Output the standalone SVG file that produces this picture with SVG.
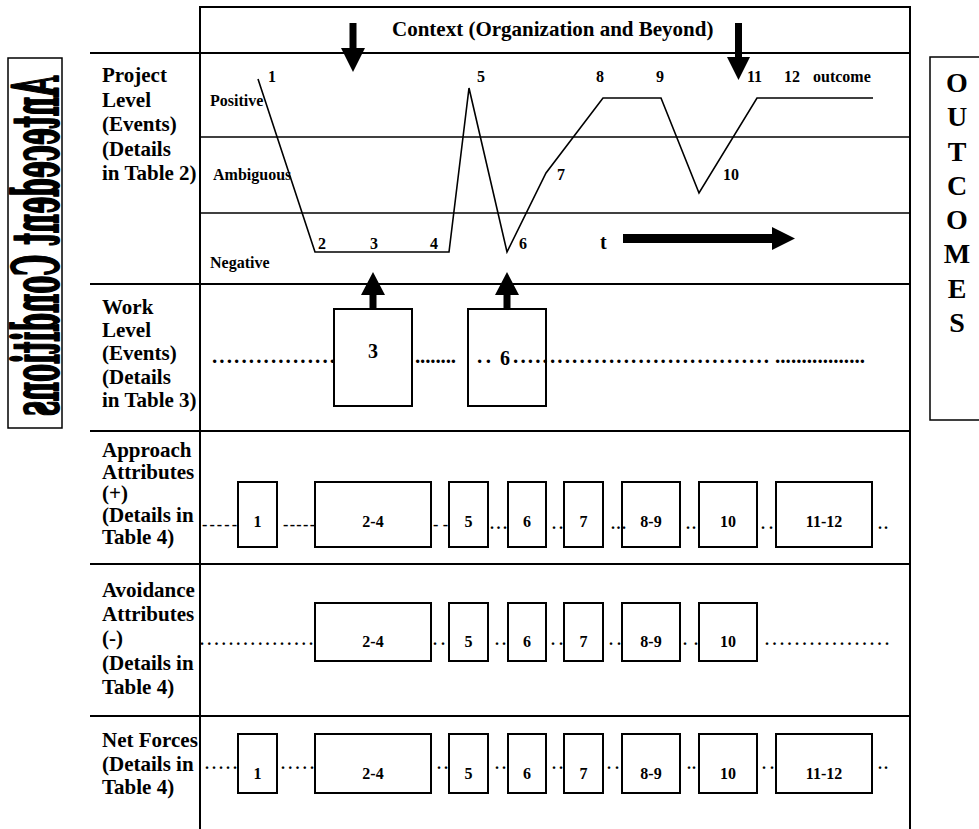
<svg xmlns="http://www.w3.org/2000/svg" width="979" height="829" viewBox="0 0 979 829">
  <style>
    text { font-family: "Liberation Serif", "Times New Roman", serif; font-weight: bold; fill: #000; }
    .lbl { font-size: 21px; }
    .sm { font-size: 16px; }
    .num { font-size: 16px; }
    .big { font-size: 20px; }
    .dots { font-size: 16px; }
    .wdots { font-size: 21px; }
    .out { font-size: 28px; text-anchor: middle; }
    .vert { font-family: "DejaVu Serif", serif; font-size: 63px; stroke: #000; stroke-width: 2.2; stroke-linejoin: round; }
    .frame line { stroke: #000; stroke-width: 2; }
    .frame line.thin { stroke-width: 1.5; }
    .node rect { fill: #fff; stroke: #000; stroke-width: 2; }
    .node text { text-anchor: middle; }
    .trace { fill: none; stroke: #000; stroke-width: 1.6; stroke-linejoin: miter; }
    .arrow { fill: #000; stroke: none; }
  </style>

  <!-- table grid -->
  <g class="frame">
    <line x1="199" y1="7" x2="911" y2="7"/>
    <line x1="200" y1="7" x2="200" y2="829"/>
    <line x1="910" y1="7" x2="910" y2="829"/>
    <line x1="90" y1="53" x2="911" y2="53"/>
    <line class="thin" x1="200" y1="137" x2="910" y2="137"/>
    <line class="thin" x1="200" y1="213" x2="910" y2="213"/>
    <line x1="90" y1="284" x2="911" y2="284"/>
    <line x1="90" y1="431" x2="911" y2="431"/>
    <line x1="90" y1="564" x2="911" y2="564"/>
    <line x1="90" y1="716" x2="911" y2="716"/>
  </g>

  <!-- side panels -->
  <g id="antecedent-conditions">
    <rect x="8" y="58" width="54" height="370" fill="#fff" stroke="#000" stroke-width="1.5"/>
    <text class="vert" transform="matrix(0,1,1,0,58,76)" x="0" y="0" textLength="340" lengthAdjust="spacingAndGlyphs">Antecedent Conditions</text>
  </g>

  <g id="outcomes">
    <rect x="930" y="57" width="60" height="363" fill="#fff" stroke="#000" stroke-width="1.5"/>
    <text class="out" x="957" y="92">O</text>
    <text class="out" x="957" y="126">U</text>
    <text class="out" x="957" y="161">T</text>
    <text class="out" x="957" y="195">C</text>
    <text class="out" x="957" y="229">O</text>
    <text class="out" x="957" y="263">M</text>
    <text class="out" x="957" y="298">E</text>
    <text class="out" x="957" y="332">S</text>
  </g>

  <!-- row headings -->
  <g id="context-row">
    <text class="lbl" x="392" y="36">Context (Organization and Beyond)</text>
  </g>
  <g id="project-level">
    <text class="lbl" x="102" y="82">Project</text>
    <text class="lbl" x="102" y="107">Level</text>
    <text class="lbl" x="102" y="131">(Events)</text>
    <text class="lbl" x="102" y="156">(Details</text>
    <text class="lbl" x="102" y="180">in Table 2)</text>
    <text class="sm" x="210" y="106">Positive</text>
    <text class="sm" x="213" y="180">Ambiguous</text>
    <text class="sm" x="210" y="268">Negative</text>
  </g>
  <g id="work-level">
    <text class="lbl" x="102" y="314">Work</text>
    <text class="lbl" x="102" y="337">Level</text>
    <text class="lbl" x="102" y="360">(Events)</text>
    <text class="lbl" x="102" y="384">(Details</text>
    <text class="lbl" x="102" y="407">in Table 3)</text>
  </g>
  <g id="approach-attributes">
    <text class="lbl" x="102" y="457">Approach</text>
    <text class="lbl" x="102" y="479">Attributes</text>
    <text class="lbl" x="102" y="500">(+)</text>
    <text class="lbl" x="102" y="522">(Details in</text>
    <text class="lbl" x="102" y="544">Table 4)</text>
  </g>
  <g id="avoidance-attributes">
    <text class="lbl" x="102" y="597">Avoidance</text>
    <text class="lbl" x="102" y="621">Attributes</text>
    <text class="lbl" x="102" y="645">(-)</text>
    <text class="lbl" x="102" y="670">(Details in</text>
    <text class="lbl" x="102" y="694">Table 4)</text>
  </g>
  <g id="net-forces">
    <text class="lbl" x="102" y="747">Net Forces</text>
    <text class="lbl" x="102" y="771">(Details in</text>
    <text class="lbl" x="102" y="794">Table 4)</text>
  </g>

  <!-- event numbers on the project trace -->
  <g id="trace-labels">
    <text class="num" x="268" y="82">1</text>
    <text class="num" x="318" y="249">2</text>
    <text class="num" x="370" y="249">3</text>
    <text class="num" x="430" y="249">4</text>
    <text class="num" x="477" y="82">5</text>
    <text class="num" x="519" y="249">6</text>
    <text class="num" x="557" y="180">7</text>
    <text class="num" x="596" y="82">8</text>
    <text class="num" x="656" y="82">9</text>
    <text class="num" x="723" y="180">10</text>
    <text class="num" x="747" y="82">11</text>
    <text class="num" x="784" y="82">12</text>
    <text class="num" x="813" y="82">outcome</text>
    <text class="big" x="600" y="249">t</text>
  </g>

  <!-- work level boxes -->
  <g id="work-3" class="node">
    <rect x="334" y="309" width="78" height="97"/>
    <text class="big" x="373" y="358">3</text>
  </g>
  <g id="work-6" class="node">
    <rect x="468" y="309" width="78" height="97"/>
    <text class="big" x="505" y="365">6</text>
  </g>

  <!-- approach boxes -->
  <g id="app-1" class="node"><rect x="238" y="482" width="39" height="65"/><text class="num" x="257.5" y="527">1</text></g>
  <g id="app-2-4" class="node"><rect x="315" y="482" width="116" height="65"/><text class="num" x="373" y="527">2-4</text></g>
  <g id="app-5" class="node"><rect x="449" y="482" width="39" height="65"/><text class="num" x="468.5" y="527">5</text></g>
  <g id="app-6" class="node"><rect x="508" y="482" width="38" height="65"/><text class="num" x="527" y="527">6</text></g>
  <g id="app-7" class="node"><rect x="564" y="482" width="39" height="65"/><text class="num" x="583.5" y="527">7</text></g>
  <g id="app-8-9" class="node"><rect x="622" y="482" width="58" height="65"/><text class="num" x="651" y="527">8-9</text></g>
  <g id="app-10" class="node"><rect x="699" y="482" width="58" height="65"/><text class="num" x="728" y="527">10</text></g>
  <g id="app-11-12" class="node"><rect x="776" y="482" width="96" height="65"/><text class="num" x="824" y="527">11-12</text></g>

  <!-- avoidance boxes -->
  <g id="avo-2-4" class="node"><rect x="315" y="603" width="116" height="58"/><text class="num" x="373" y="647">2-4</text></g>
  <g id="avo-5" class="node"><rect x="449" y="603" width="39" height="58"/><text class="num" x="468.5" y="647">5</text></g>
  <g id="avo-6" class="node"><rect x="508" y="603" width="38" height="58"/><text class="num" x="527" y="647">6</text></g>
  <g id="avo-7" class="node"><rect x="564" y="603" width="39" height="58"/><text class="num" x="583.5" y="647">7</text></g>
  <g id="avo-8-9" class="node"><rect x="622" y="603" width="58" height="58"/><text class="num" x="651" y="647">8-9</text></g>
  <g id="avo-10" class="node"><rect x="699" y="603" width="58" height="58"/><text class="num" x="728" y="647">10</text></g>

  <!-- net force boxes -->
  <g id="net-1" class="node"><rect x="238" y="734" width="39" height="59"/><text class="num" x="257.5" y="779">1</text></g>
  <g id="net-2-4" class="node"><rect x="315" y="734" width="116" height="59"/><text class="num" x="373" y="779">2-4</text></g>
  <g id="net-5" class="node"><rect x="449" y="734" width="39" height="59"/><text class="num" x="468.5" y="779">5</text></g>
  <g id="net-6" class="node"><rect x="508" y="734" width="38" height="59"/><text class="num" x="527" y="779">6</text></g>
  <g id="net-7" class="node"><rect x="564" y="734" width="39" height="59"/><text class="num" x="583.5" y="779">7</text></g>
  <g id="net-8-9" class="node"><rect x="622" y="734" width="58" height="59"/><text class="num" x="651" y="779">8-9</text></g>
  <g id="net-10" class="node"><rect x="699" y="734" width="58" height="59"/><text class="num" x="728" y="779">10</text></g>
  <g id="net-11-12" class="node"><rect x="776" y="734" width="96" height="59"/><text class="num" x="824" y="779">11-12</text></g>

  <!-- connectors: trace, block arrows and dotted links -->
  <g id="connectors">
    <polyline class="trace" points="258,79 315,252 449,252 469,88 507,252 546,173 603,98 661,98 699,193 757,98 873,98"/>

    <polygon class="arrow" points="349.5,23 356.5,23 356.5,48 365,48 353,72 341,48 349.5,48"/>
    <polygon class="arrow" points="735,23 742,23 742,57 750,57 738.5,80 727,57 735,57"/>
    <polygon class="arrow" points="369.5,309 376.5,309 376.5,295 385,295 373,272 361,295 369.5,295"/>
    <polygon class="arrow" points="503.5,309 510.5,309 510.5,295 519,295 507,272 495,295 503.5,295"/>
    <polygon class="arrow" points="623,234 772,234 772,227 795,238.5 772,250 772,243 623,243"/>

    <!-- work level dotted run -->
    <text class="wdots" x="212" y="363" textLength="123" lengthAdjust="spacing">.................</text>
    <text class="wdots" x="415" y="363" textLength="41" lengthAdjust="spacing">........</text>
    <text class="wdots" x="477" y="363" textLength="14" lengthAdjust="spacing">..</text>
    <text class="wdots" x="513" y="363" textLength="256" lengthAdjust="spacing">...................................</text>
    <text class="wdots" x="775" y="363" textLength="90" lengthAdjust="spacing">.................</text>

    <!-- approach row -->
    <text class="dots" x="202" y="530" textLength="35" lengthAdjust="spacing">-----</text>
    <text class="dots" x="283" y="530" textLength="32" lengthAdjust="spacing">-----</text>
    <text class="dots" x="433" y="530" textLength="15" lengthAdjust="spacing">--</text>
    <text class="dots" x="490" y="529" textLength="17" lengthAdjust="spacing">...</text>
    <text class="dots" x="552" y="529" textLength="11" lengthAdjust="spacing">..</text>
    <text class="dots" x="611" y="529" textLength="15" lengthAdjust="spacing">...</text>
    <text class="dots" x="686" y="529" textLength="10" lengthAdjust="spacing">..</text>
    <text class="dots" x="761" y="529" textLength="12" lengthAdjust="spacing">..</text>
    <text class="dots" x="878" y="529" textLength="10" lengthAdjust="spacing">..</text>

    <!-- avoidance row -->
    <text class="dots" x="200" y="645" textLength="113" lengthAdjust="spacing">................</text>
    <text class="dots" x="433" y="645" textLength="12" lengthAdjust="spacing">..</text>
    <text class="dots" x="495" y="645" textLength="11" lengthAdjust="spacing">..</text>
    <text class="dots" x="551" y="645" textLength="12" lengthAdjust="spacing">..</text>
    <text class="dots" x="609" y="645" textLength="12" lengthAdjust="spacing">..</text>
    <text class="dots" x="683" y="645" textLength="15" lengthAdjust="spacing">..</text>
    <text class="dots" x="765" y="645" textLength="124" lengthAdjust="spacing">.................</text>

    <!-- net forces row -->
    <text class="dots" x="205" y="769" textLength="32" lengthAdjust="spacing">.....</text>
    <text class="dots" x="281" y="769" textLength="33" lengthAdjust="spacing">.....</text>
    <text class="dots" x="437" y="769" textLength="11" lengthAdjust="spacing">..</text>
    <text class="dots" x="495" y="769" textLength="11" lengthAdjust="spacing">..</text>
    <text class="dots" x="552" y="769" textLength="11" lengthAdjust="spacing">..</text>
    <text class="dots" x="607" y="769" textLength="12" lengthAdjust="spacing">..</text>
    <text class="dots" x="687" y="769" textLength="9" lengthAdjust="spacing">..</text>
    <text class="dots" x="762" y="769" textLength="12" lengthAdjust="spacing">..</text>
    <text class="dots" x="878" y="769" textLength="10" lengthAdjust="spacing">..</text>
  </g>
</svg>
